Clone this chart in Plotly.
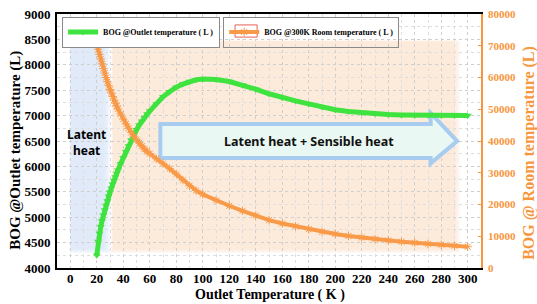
import plotly.graph_objects as go

# ---------------- data ----------------
outlet_temp_K = [20, 21, 22, 23, 24, 25, 26, 27, 28, 29, 30, 31, 32, 33, 34, 35, 36,
                 38, 40, 42, 44, 46, 48, 50, 52, 54, 56, 58, 60,
                 65, 70, 75, 80, 85, 90, 95, 100,
                 110, 120, 130, 140, 150, 160, 170, 180, 190, 200,
                 210, 220, 230, 240, 250, 260, 270, 280, 290, 300]

bog_outlet_L = [4250, 4520, 4680, 4810, 4930, 5040, 5140, 5230, 5320, 5410, 5490, 5570, 5650, 5720, 5790, 5860, 5925,
                6050, 6170, 6290, 6400, 6520, 6630, 6720, 6810, 6890, 6960, 7030, 7090,
                7230, 7370, 7470, 7560, 7620, 7670, 7705, 7720,
                7710, 7670, 7600, 7520, 7430, 7350, 7290, 7230, 7170, 7115,
                7080, 7055, 7035, 7020, 7012, 7008, 7005, 7003, 7001, 7000]

bog_room_L = [70500, 68900, 67300, 65800, 64300, 62800, 61400, 60000, 58700, 57400, 56200, 55100, 54000, 52900, 51900, 51000, 50100,
              48500, 46900, 45400, 44000, 42700, 41500, 40400, 39400, 38400, 37500, 36700, 36000,
              34400, 32900, 31300, 29600, 27700, 25900, 24400, 23200,
              21300, 19600, 18000, 16500, 15100, 14000, 13100, 12200, 11400, 10700,
              10100, 9600, 9100, 8700, 8300, 7950, 7600, 7300, 7000, 6700]

series_names = ["BOG @Outlet temperature ( L )", "BOG @300K Room temperature ( L )"]
x_ticks = list(range(0, 301, 20))
left_ticks = list(range(4000, 9001, 500))
right_ticks = list(range(0, 80001, 10000))

x_title = "Outlet Temperature ( K )"
left_title = "BOG @Outlet temperature (L)"
right_title = "BOG @ Room temperature (L)"
region_labels = ["Latent<br>heat", "Latent heat + Sensible heat"]

# ---------------- styles ----------------
GREEN = "#3fe33f"
ORANGE = "#f7963c"
SERIF = "Liberation Serif"
SANS = "Noto Sans"

fig = go.Figure()

fig.add_trace(go.Scatter(
    x=outlet_temp_K, y=bog_outlet_L, name=series_names[0], mode="lines+markers",
    line=dict(color=GREEN, width=5),
    marker=dict(symbol="triangle-down", size=7, color=GREEN),
    yaxis="y", legend="legend"))

fig.add_trace(go.Scatter(
    x=outlet_temp_K, y=bog_room_L, name=series_names[1], mode="lines+markers",
    line=dict(color="#f89a48", width=4),
    marker=dict(symbol="asterisk-open", size=7, line=dict(color=ORANGE, width=1)),
    yaxis="y2", legend="legend2"))

# ---------------- background regions (soft edges via stacked rectangles) ----------------
shapes = []
def soft_rect(x0, x1, y0, y1, color, steps=4, dx=1.2, dy=25):
    for i in range(steps):
        shapes.append(dict(type="rect", xref="x", yref="y", layer="below",
                           x0=x0 + i * dx * 0.3, x1=x1 - i * dx, y0=y0 + i * dy, y1=y1 - i * dy * 0.3,
                           fillcolor=color, opacity=0.3, line=dict(width=0)))

soft_rect(-0.5, 30, 4300, 8480, "#d6e6f7", dx=1.5)
soft_rect(31, 294, 4300, 8480, "#fce3cf", dx=1.5)

# big arrow
shapes.append(dict(type="path", xref="x", yref="y", layer="between",
                   path="M 68,6835 L 272,6835 L 272,7050 L 292,6500 L 272,6060 L 272,6165 L 68,6165 Z",
                   fillcolor="#e9f8f3", line=dict(color="#a8ccef", width=4)))

LEG1_X = 0.012
LEG2_X = 0.392

# white backing for the second legend (so a red frame can sit round its symbol)
shapes.append(dict(type="rect", xref="paper", yref="paper", layer="above",
                   x0=LEG2_X + 0.003, x1=0.80, y0=0.902, y1=0.985,
                   fillcolor="white", line=dict(width=0)))
shapes.append(dict(type="rect", xref="paper", yref="paper", layer="above",
                   x0=0.420, x1=0.472, y0=0.909, y1=0.957,
                   fillcolor="rgba(0,0,0,0)", line=dict(color="#e8605a", width=1)))

fig.update_layout(
    width=537, height=304,
    margin=dict(l=57, r=56, t=14, b=36, autoexpand=False),
    paper_bgcolor="white", plot_bgcolor="white",
    shapes=shapes,
    xaxis=dict(range=[-10, 310], tickvals=x_ticks, showline=True, linecolor="black", linewidth=2,
               mirror=True, showgrid=True, gridcolor="#cfcfcf", griddash="dot", gridwidth=1,
               minor=dict(dtick=10, tick0=0, showgrid=True, gridcolor="#dedede", griddash="dot"),
               zeroline=False, ticks="", ticklabelstandoff=-3, automargin=False,
               tickfont=dict(family=SERIF, size=13, color="black", weight="bold")),
    yaxis=dict(range=[4000, 9000], tickvals=left_ticks, showline=True, linecolor="black", linewidth=2,
               showgrid=True, gridcolor="#cfcfcf", griddash="dot", gridwidth=1,
               minor=dict(dtick=250, tick0=4000, showgrid=True, gridcolor="#dedede", griddash="dot"),
               zeroline=False, ticks="", ticklabelstandoff=2, automargin=False,
               tickfont=dict(family=SERIF, size=13, color="black", weight="bold")),
    yaxis2=dict(range=[0, 80000], tickvals=right_ticks, tickformat="d", overlaying="y", side="right",
                showline=True, linecolor=ORANGE, linewidth=1.5, showgrid=False, zeroline=False,
                ticks="inside", ticklen=3, tickcolor=ORANGE, ticklabelstandoff=3, automargin=False,
                tickfont=dict(family=SERIF, size=11, color=ORANGE, weight="bold")),
    legend=dict(x=LEG1_X, y=0.99, xanchor="left", yanchor="top", orientation="h",
                bgcolor="white", bordercolor="#8a8a8a", borderwidth=1, itemwidth=30,
                font=dict(family=SERIF, size=8, color="black", weight="bold")),
    legend2=dict(x=LEG2_X, y=0.99, xanchor="left", yanchor="top", orientation="h",
                 bgcolor="rgba(0,0,0,0)", bordercolor="#8a8a8a", borderwidth=1, itemwidth=30,
                 font=dict(family=SERIF, size=8, color="black", weight="bold")),
    showlegend=True,
    annotations=[
        dict(text=x_title, xref="paper", yref="paper", x=0.502, y=-0.106, xanchor="center", yanchor="middle",
             showarrow=False, font=dict(family=SERIF, size=14, color="black", weight="bold")),
        dict(text=left_title, xref="paper", yref="paper", x=-0.097, y=0.465, xanchor="center", yanchor="middle",
             textangle=-90, showarrow=False, font=dict(family=SERIF, size=15, color="black", weight="bold")),
        dict(text=right_title, xref="paper", yref="paper", x=1.113, y=0.453, xanchor="center", yanchor="middle",
             textangle=-90, showarrow=False, font=dict(family=SERIF, size=16, color=ORANGE, weight="bold")),
        dict(text=region_labels[0], xref="x", yref="y", x=12.3, y=6461, showarrow=False,
             font=dict(family=SANS, size=12, color="black", weight="bold"), align="center"),
        dict(text=region_labels[1], xref="x", yref="y", x=180, y=6490, showarrow=False,
             font=dict(family=SANS, size=12.5, color="#111111", weight="bold")),
    ],
)

fig.write_html("out.html", config={"displayModeBar": False},
               post_script="document.body.style.margin='0';")
